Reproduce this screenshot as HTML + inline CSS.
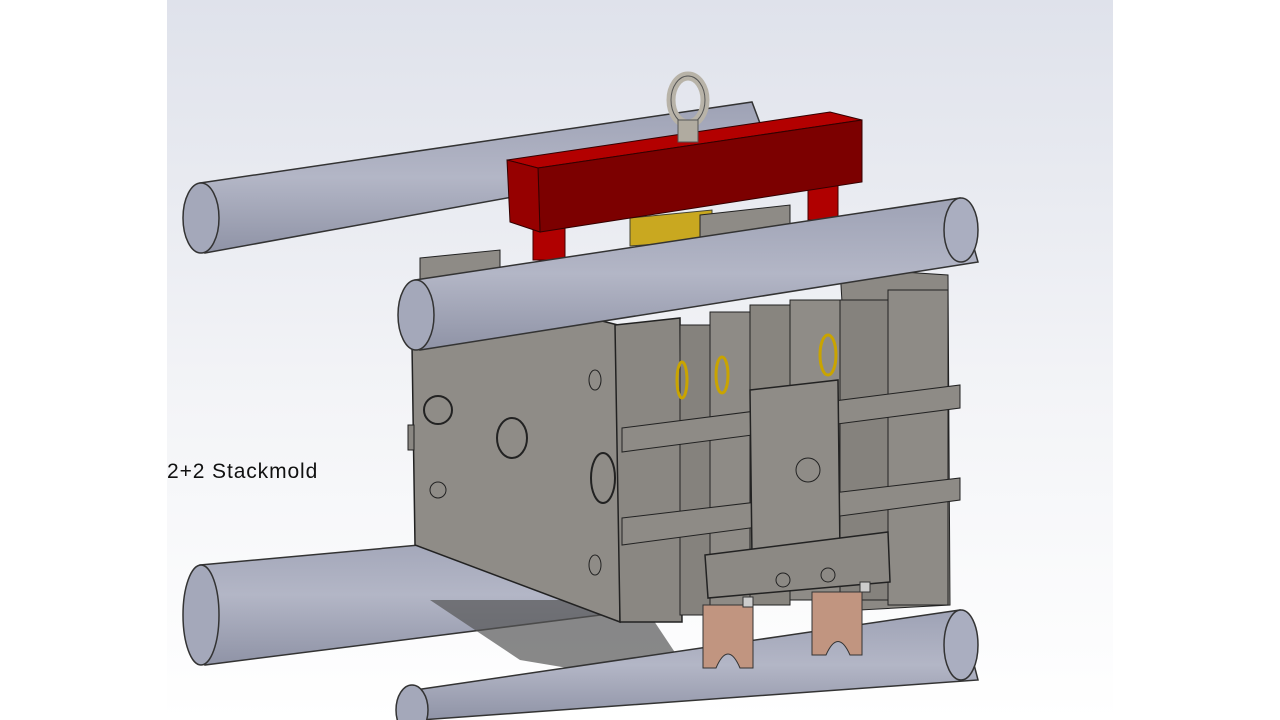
<!DOCTYPE html>
<html><head><meta charset="utf-8"><style>
html,body{margin:0;padding:0;background:#fff;width:1280px;height:720px;overflow:hidden}
.lbl{position:absolute;left:167px;top:460px;font:21px "Liberation Sans",sans-serif;letter-spacing:0.9px;color:#111}
</style></head><body>
<svg width="1280" height="720" style="position:absolute;left:0;top:0">
<defs>
<linearGradient id="bg" x1="0" y1="0" x2="0" y2="1">
<stop offset="0" stop-color="#dfe2eb"/><stop offset="0.55" stop-color="#f3f4f7"/><stop offset="1" stop-color="#ffffff"/></linearGradient>
<linearGradient id="bar" x1="0" y1="0" x2="0" y2="1">
<stop offset="0" stop-color="#9ea2b5"/><stop offset="0.5" stop-color="#b3b6c6"/><stop offset="1" stop-color="#8f93a6"/></linearGradient>
</defs>
<rect x="167" y="0" width="946" height="720" fill="url(#bg)"/>
<polygon points="200,183 752,102 770,150 205,253" fill="url(#bar)" stroke="#333" stroke-width="1.5"/>
<ellipse cx="201" cy="218" rx="18" ry="35" fill="#a4a8ba" stroke="#333" stroke-width="1.5"/>
<polygon points="200,565 640,525 640,610 205,665" fill="url(#bar)" stroke="#333" stroke-width="1.5"/>
<ellipse cx="201" cy="615" rx="18" ry="50" fill="#a4a8ba" stroke="#333" stroke-width="1.5"/>
<polygon points="430,600 640,600 700,690 520,660" fill="#555" opacity="0.7"/>
<rect x="533" y="210" width="32" height="50" fill="#b00000" stroke="#400" />
<rect x="808" y="185" width="30" height="35" fill="#b00000" stroke="#400"/>
<polygon points="630,218 712,210 712,240 630,246" fill="#c9a820" stroke="#443"/>
<polygon points="507,160 830,112 862,120 538,168" fill="#b30000" stroke="#300"/>
<polygon points="538,168 862,120 862,182 540,232" fill="#7c0000" stroke="#300"/>
<polygon points="507,160 538,168 540,232 510,222" fill="#960000" stroke="#300"/>
<ellipse cx="688" cy="100" rx="17" ry="24" fill="none" stroke="#b8b3a8" stroke-width="9"/>
<ellipse cx="688" cy="100" rx="17" ry="24" fill="none" stroke="#555" stroke-width="1"/>
<rect x="678" y="120" width="20" height="22" fill="#b0aba0" stroke="#555"/>
<polygon points="420,258 500,250 500,345 420,350" fill="#8e8b86" stroke="#222"/>
<polygon points="700,215 790,205 790,275 700,280" fill="#8e8b86" stroke="#222"/>
<polygon points="840,268 948,275 950,605 860,610" fill="#8c8984" stroke="#222"/>
<polygon points="412,345 590,318 618,325 620,622 415,545" fill="#8f8c87" stroke="#222" stroke-width="1.5"/>
<rect x="408" y="425" width="6" height="25" fill="#8a8782" stroke="#222"/>
<polygon points="615,325 680,318 682,622 620,622" fill="#8a8782" stroke="#222" stroke-width="1.5"/>
<rect x="680" y="325" width="30" height="290" fill="#85827d" stroke="#222"/>
<rect x="710" y="312" width="40" height="295" fill="#8e8b86" stroke="#222"/>
<rect x="750" y="305" width="40" height="300" fill="#88857f" stroke="#222"/>
<rect x="790" y="300" width="50" height="300" fill="#8f8c87" stroke="#222"/>
<rect x="840" y="300" width="48" height="300" fill="#85827d" stroke="#222"/>
<rect x="888" y="290" width="60" height="315" fill="#8e8b86" stroke="#222"/>
<ellipse cx="682" cy="380" rx="5" ry="18" fill="none" stroke="#c9a400" stroke-width="3"/>
<ellipse cx="828" cy="355" rx="8" ry="20" fill="none" stroke="#c9a400" stroke-width="3"/>
<ellipse cx="722" cy="375" rx="6" ry="18" fill="none" stroke="#c9a400" stroke-width="3"/>
<polygon points="622,428 960,385 960,408 622,452" fill="#8e8b86" stroke="#222"/>
<polygon points="622,518 960,478 960,500 622,545" fill="#8e8b86" stroke="#222"/>
<polygon points="750,390 838,380 840,555 752,558" fill="#8f8c87" stroke="#222" stroke-width="1.5"/>
<circle cx="808" cy="470" r="12" fill="none" stroke="#222"/>
<polygon points="705,555 888,532 890,582 708,598" fill="#8c8984" stroke="#222" stroke-width="1.5"/>
<circle cx="783" cy="580" r="7" fill="none" stroke="#222"/><circle cx="828" cy="575" r="7" fill="none" stroke="#222"/>
<circle cx="438" cy="410" r="14" fill="none" stroke="#222" stroke-width="2"/>
<ellipse cx="512" cy="438" rx="15" ry="20" fill="none" stroke="#222" stroke-width="2"/>
<ellipse cx="603" cy="478" rx="12" ry="25" fill="none" stroke="#222" stroke-width="2"/>
<circle cx="438" cy="490" r="8" fill="none" stroke="#222"/>
<ellipse cx="595" cy="380" rx="6" ry="10" fill="none" stroke="#222"/>
<ellipse cx="595" cy="565" rx="6" ry="10" fill="none" stroke="#222"/>
<polygon points="415,280 960,198 978,262 420,350" fill="url(#bar)" stroke="#333" stroke-width="1.5"/>
<ellipse cx="416" cy="315" rx="18" ry="35" fill="#a4a8ba" stroke="#333" stroke-width="1.5"/>
<ellipse cx="961" cy="230" rx="17" ry="32" fill="#aaaec0" stroke="#333" stroke-width="1.5"/>
<polygon points="415,690 960,610 978,680 420,720" fill="url(#bar)" stroke="#333" stroke-width="1.5"/>
<ellipse cx="961" cy="645" rx="17" ry="35" fill="#aaaec0" stroke="#333" stroke-width="1.5"/>
<ellipse cx="412" cy="710" rx="16" ry="25" fill="#a4a8ba" stroke="#333" stroke-width="1.5"/>
<path d="M703,605 H753 V668 H740 Q728,640 716,668 H703 Z" fill="#c19580" stroke="#333"/>
<path d="M812,592 H862 V655 H850 Q838,628 826,655 H812 Z" fill="#c19580" stroke="#333"/>
<rect x="743" y="597" width="10" height="10" fill="#ccc" stroke="#333"/>
<rect x="860" y="582" width="10" height="10" fill="#ccc" stroke="#333"/>
</svg>
<div class="lbl">2+2 Stackmold</div>
</body></html>
